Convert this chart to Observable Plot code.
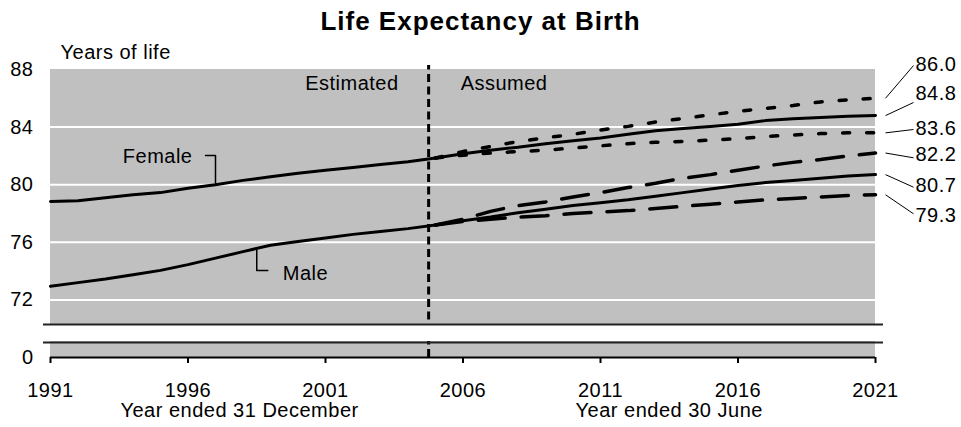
<!DOCTYPE html>
<html>
<head>
<meta charset="utf-8">
<script src="https://cdn.jsdelivr.net/npm/d3@7"></script>
<script src="https://cdn.jsdelivr.net/npm/@observablehq/plot@0.6"></script>
<style>
  html, body { margin: 0; padding: 0; background: #fff; }
  body { width: 961px; height: 427px; overflow: hidden; font-family: "Liberation Sans", Arial, sans-serif; }
  #title { height: 40px; line-height: 42px; text-align: center; font-weight: bold; font-size: 26px; letter-spacing: 1px; color: #000; }
  #chart svg { display: block; }
</style>
</head>
<body>
<div id="title">Life Expectancy at Birth</div>
<div id="chart"></div>
<script>
// ---------------- data ----------------
const estYears = [1991, 1992, 1993, 1994, 1995, 1996, 1997, 1998, 1999, 2000, 2001, 2002, 2003, 2004, 2005];
const femaleEst = [78.83, 78.88, 79.1, 79.3, 79.45, 79.75, 80.0, 80.3, 80.55, 80.8, 81.0, 81.2, 81.4, 81.6, 81.85];
const maleEst   = [72.95, 73.2, 73.45, 73.75, 74.05, 74.45, 74.9, 75.35, 75.8, 76.05, 76.3, 76.55, 76.75, 76.95, 77.2];

const projYears = [2005, 2006, 2007, 2008, 2009, 2010, 2011, 2012, 2013, 2014, 2015, 2016, 2017, 2018, 2019, 2020, 2021];
const femaleHigh   = [81.85, 82.3, 82.65, 83.0, 83.25, 83.5, 83.8, 84.05, 84.35, 84.6, 84.85, 85.1, 85.3, 85.5, 85.75, 85.9, 86.0];
const femaleMedium = [81.85, 82.15, 82.4, 82.6, 82.85, 83.05, 83.25, 83.5, 83.75, 83.9, 84.05, 84.2, 84.45, 84.58, 84.67, 84.75, 84.8];
const femaleLow    = [81.85, 82.05, 82.2, 82.3, 82.4, 82.55, 82.7, 82.85, 82.95, 83.0, 83.1, 83.2, 83.35, 83.45, 83.55, 83.6, 83.6];
const maleHigh     = [77.2, 77.6, 78.15, 78.55, 78.8, 79.15, 79.45, 79.8, 80.1, 80.45, 80.7, 81.0, 81.3, 81.55, 81.75, 82.0, 82.2];
const maleMedium   = [77.2, 77.5, 77.75, 78.05, 78.3, 78.55, 78.75, 78.95, 79.2, 79.45, 79.7, 79.95, 80.15, 80.3, 80.45, 80.6, 80.7];
const maleLow      = [77.2, 77.45, 77.6, 77.75, 77.85, 78.0, 78.1, 78.2, 78.35, 78.5, 78.65, 78.8, 78.95, 79.05, 79.15, 79.25, 79.3];

const endLabels = ["86.0", "84.8", "83.6", "82.2", "80.7", "79.3"];
const xTicks = [1991, 1996, 2001, 2006, 2011, 2016, 2021];
const yTicks = [0, 72, 76, 80, 84, 88];
const boundaryYear = 2004.75;
const seriesNames = ["Female", "Male"];
const periodNames = ["Estimated", "Assumed"];
const xTitles = ["Year ended 31 December", "Year ended 30 June"];
const yTitle = "Years of life";

// ---------------- layout ----------------
const W = 961, H = 387;
const X_RANGE = [50, 875];
const Y_DOMAIN = [68, 88];        // 68 stands for the broken-axis "0"
const Y_RANGE = [317, 29];
const xs = Plot.scale({x: {domain: [1991, 2021], range: X_RANGE}});
const ys = Plot.scale({y: {domain: Y_DOMAIN, range: Y_RANGE}});
const px2x = p => xs.invert(p);
const px2y = p => ys.invert(p);
const axisVal = v => (v === 0 ? Y_DOMAIN[0] : v);

const interp = (xsArr, vals, x) => {
  for (let i = 1; i < xsArr.length; i++) {
    if (x <= xsArr[i]) {
      const t = (x - xsArr[i - 1]) / (xsArr[i] - xsArr[i - 1]);
      return vals[i - 1] + t * (vals[i] - vals[i - 1]);
    }
  }
  return vals[vals.length - 1];
};

// tables
const estRows = [];
estYears.forEach((y, i) => {
  estRows.push({year: y, value: femaleEst[i], s: "F"});
  estRows.push({year: y, value: maleEst[i], s: "M"});
});
const proj = (arr, s) => projYears.map((y, i) => ({year: y, value: arr[i], s}));
const solidProj = [...proj(femaleMedium, "F"), ...proj(maleMedium, "M")];
const dottedProj = [...proj(femaleHigh, "FH"), ...proj(femaleLow, "FL")];
const dashedProj = [...proj(maleHigh, "MH"), ...proj(maleLow, "ML")];

const ends = [femaleHigh, femaleMedium, femaleLow, maleHigh, maleMedium, maleLow].map(a => a[a.length - 1]);
const labelCenters = [23.7, 53, 88.3, 114.2, 145.5, 175.5];   // px within the svg
const connEnds = [25, 62, 89, 117.3, 146.7, 173.3];
const endRows = endLabels.map((t, i) => ({
  text: t,
  x1: px2x(X_RANGE[1] + 10), y1: ends[i],
  x2: px2x(X_RANGE[1] + 38), y2: px2y(connEnds[i]),
  lx: px2x(X_RANGE[1] + 40), ly: px2y(labelCenters[i])
}));

// female / male annotation leaders
const fYear = 1997, fVal = interp(estYears, femaleEst, fYear);
const fCorner = px2y(115);
const femaleLeader = [[px2x(xs.apply(fYear) - 10), fCorner], [fYear, fCorner], [fYear, fVal]];
const mYear = 1998.5, mVal = interp(estYears, maleEst, mYear);
const mCorner = px2y(230);
const maleLeader = [[mYear, mVal], [mYear, mCorner], [px2x(xs.apply(mYear) + 11), mCorner]];

const gray = "#c0c0c0";
const bandTop = px2y(285), bandBot = px2y(301);
const lineTop = px2y(284), lineBot = px2y(302);

const chart = Plot.plot({
  width: W, height: H,
  marginLeft: X_RANGE[0], marginRight: W - X_RANGE[1], marginTop: Y_RANGE[1], marginBottom: H - Y_RANGE[0],
  x: {domain: [1991, 2021], range: X_RANGE},
  y: {domain: Y_DOMAIN, range: Y_RANGE},
  style: {fontFamily: '"Liberation Sans", Arial, sans-serif', fontSize: "20px", letterSpacing: "0.5px", color: "#000", background: "#fff"},
  marks: [
    Plot.rect([0], {x1: 1991, x2: 2021, y1: Y_DOMAIN[0], y2: Y_DOMAIN[1], fill: gray}),
    Plot.ruleY(yTicks.filter(v => v !== 0 && v !== 88), {x1: 1991, x2: 2021, stroke: "#fff", strokeWidth: 2}),
    Plot.ruleX([boundaryYear], {y1: Y_DOMAIN[0], y2: px2y(25), stroke: "#000", strokeWidth: 3, strokeDasharray: "8,4.5"}),
    Plot.line(estRows, {x: "year", y: "value", z: "s", stroke: "#000", strokeWidth: 3}),
    Plot.line(solidProj, {x: "year", y: "value", z: "s", stroke: "#000", strokeWidth: 3}),
    Plot.line(dottedProj, {x: "year", y: "value", z: "s", stroke: "#000", strokeWidth: 3.5, strokeDasharray: "7,17"}),
    Plot.line(dashedProj, {x: "year", y: "value", z: "s", stroke: "#000", strokeWidth: 3.5, strokeDasharray: "27,16"}),
    // axis break
    Plot.rect([0], {x1: 1991, x2: 2021, y1: bandBot, y2: bandTop, fill: "#fff"}),
    Plot.ruleY([lineTop, lineBot], {x1: px2x(43), x2: px2x(883), stroke: "#222", strokeWidth: 2}),
    // x axis
    Plot.ruleY([Y_DOMAIN[0]], {x1: 1991, x2: 2021, stroke: "#000", strokeWidth: 2}),
    Plot.axisX({ticks: xTicks, tickSize: 6, tickPadding: 19, tickFormat: d => String(d), strokeWidth: 2, label: null, fontSize: 20}),
    Plot.axisY({ticks: yTicks.map(axisVal), tickSize: 0, tickPadding: 17, tickFormat: d => (d === Y_DOMAIN[0] ? "0" : String(d)), label: null, fontSize: 20}),
    // titles
    Plot.text([yTitle], {frameAnchor: "top-left", dx: 10, dy: -17, textAnchor: "start", lineAnchor: "middle", fontSize: 20}),
    Plot.text([xTitles[0]], {x: (1991 + boundaryYear) / 2, frameAnchor: "bottom", lineAnchor: "middle", dy: 53, fontSize: 20}),
    Plot.text([xTitles[1]], {x: (2006 + 2021) / 2, frameAnchor: "bottom", lineAnchor: "middle", dy: 53, fontSize: 20}),
    Plot.text([periodNames[0]], {x: boundaryYear, y: px2y(43), dx: -30, textAnchor: "end", fontSize: 20}),
    Plot.text([periodNames[1]], {x: boundaryYear, y: px2y(43), dx: 32, textAnchor: "start", fontSize: 20}),
    // series labels
    Plot.line(femaleLeader, {stroke: "#000", strokeWidth: 1.5}),
    Plot.text([seriesNames[0]], {x: fYear, y: px2y(116), dx: -23, textAnchor: "end", fontSize: 20}),
    Plot.line(maleLeader, {stroke: "#000", strokeWidth: 1.5}),
    Plot.text([seriesNames[1]], {x: mYear, y: px2y(233), dx: 26, textAnchor: "start", fontSize: 20}),
    // end labels
    Plot.link(endRows, {x1: "x1", y1: "y1", x2: "x2", y2: "y2", stroke: "#000", strokeWidth: 1}),
    Plot.text(endRows, {x: "lx", y: "ly", text: "text", textAnchor: "start", fontSize: 20})
  ]
});
document.getElementById("chart").appendChild(chart);
</script>
</body>
</html>
